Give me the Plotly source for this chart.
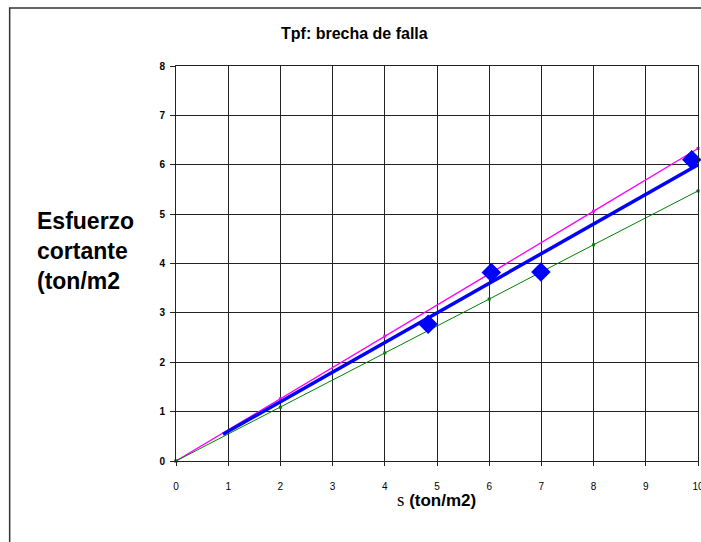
import plotly.graph_objects as go

# data
pts_x = [4.83, 6.04, 6.99, 9.88]
pts_y = [2.77, 3.82, 3.83, 6.10]
fit_x = [0.9, 10]
fit_y = [0.54, 6.0]
mag_x = [0, 2, 4, 6, 8, 10]
mag_y = [0, 1.26, 2.53, 3.79, 5.06, 6.33]
grn_x = [0, 2, 4, 6, 8, 10]
grn_y = [0, 1.09, 2.19, 3.28, 4.38, 5.47]
x_ticks = list(range(0, 11))
y_ticks = list(range(0, 9))

fig = go.Figure()
fig.add_trace(go.Scatter(x=mag_x, y=mag_y, mode="lines+markers",
                         line=dict(color="#FF00FF", width=1.3),
                         marker=dict(symbol="square", size=3, color="#FF00FF"),
                         showlegend=False, cliponaxis=False))
fig.add_trace(go.Scatter(x=grn_x, y=grn_y, mode="lines+markers",
                         line=dict(color="#008000", width=1),
                         marker=dict(symbol="square", size=3, color="#008000"),
                         showlegend=False, cliponaxis=False))
fig.add_trace(go.Scatter(x=fit_x, y=fit_y, mode="lines",
                         line=dict(color="#0000FF", width=3.5),
                         showlegend=False, cliponaxis=False))
fig.add_trace(go.Scatter(x=pts_x, y=pts_y, mode="markers",
                         marker=dict(symbol="diamond", size=15, color="#0000FF"),
                         showlegend=False, cliponaxis=False))

L, R, T, B = 176, 2.5, 66, 81
W, H = 701, 542
pw = W - L - R
ph = H - T - B

def px(xp):
    return (xp - L) / pw

def py(yp):
    return (H - B - yp) / ph

fig.update_layout(
    width=W, height=H,
    margin=dict(l=L, r=R, t=T, b=B, pad=0, autoexpand=False),
    paper_bgcolor="white", plot_bgcolor="white",
    font=dict(family="Liberation Sans, Arial", color="black"),
    xaxis=dict(range=[0, 10], tickvals=x_ticks, ticktext=[str(v) for v in x_ticks],
               showgrid=True, gridcolor="#222", gridwidth=1, automargin=False,
               zeroline=False, showline=True, linecolor="#222", linewidth=1, mirror=True,
               ticks="outside", ticklen=4, tickcolor="#222",
               ticklabeloverflow="allow", ticklabelstandoff=12,
               tickfont=dict(size=10, family="Liberation Sans, Arial")),
    yaxis=dict(range=[0, 8], tickvals=y_ticks, ticktext=["<b>%d</b>" % v for v in y_ticks],
               showgrid=True, gridcolor="#222", gridwidth=1, automargin=False,
               zeroline=False, showline=True, linecolor="#222", linewidth=1, mirror=True,
               ticks="outside", ticklen=5, tickcolor="#222", ticklabelstandoff=3,
               tickfont=dict(size=10, family="Liberation Sans, Arial")),
    shapes=[dict(type="rect", xref="paper", yref="paper",
                 x0=px(9.5), x1=px(720), y0=py(560), y1=py(8),
                 line=dict(color="#333", width=1.5), fillcolor="rgba(0,0,0,0)",
                 layer="below")],
    annotations=[
        dict(text="<b>Tpf: brecha de falla</b>", xref="paper", yref="paper",
             x=px(355), y=py(33), showarrow=False, xanchor="center", yanchor="middle",
             font=dict(size=16, family="Liberation Sans, Arial")),
        dict(text="<b>Esfuerzo<br>cortante<br>(ton/m2</b>", xref="paper", yref="paper",
             x=px(35), y=py(251), showarrow=False, xanchor="left", yanchor="middle",
             align="left", font=dict(size=23, family="Liberation Sans, Arial")),
        dict(text="<span style='font-family:Liberation Serif;font-size:19px'>s</span> <b>(ton/m2)</b>",
             xref="paper", yref="paper",
             x=px(437), y=py(499), showarrow=False, xanchor="center", yanchor="middle",
             font=dict(size=17, family="Liberation Sans, Arial")),
    ],
)

fig.write_html("out.html")
